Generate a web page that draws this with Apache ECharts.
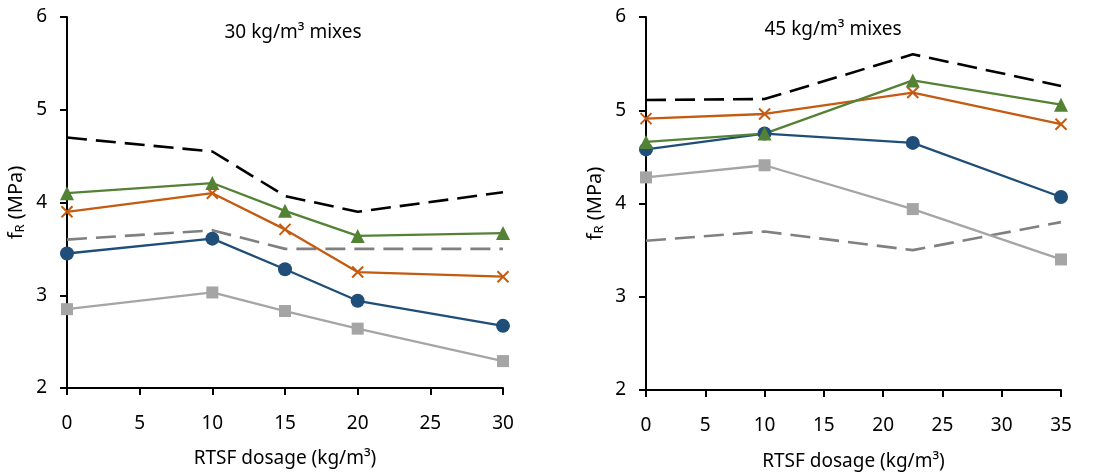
<!DOCTYPE html>
<html><head><meta charset="utf-8">
<script src="https://cdn.jsdelivr.net/npm/echarts@6/dist/echarts.min.js"></script>
<style>html,body{margin:0;padding:0;background:#fff}#c{width:1104px;height:476px}</style>
</head><body><div id="c"></div>
<script>
// ---- data ----
const xLeft = [0, 10, 15, 20, 30];
const xRight = [0, 10, 22.5, 35];
const leftBlackDash = [4.70, 4.55, 4.07, 3.90, 4.11];
const leftGreen     = [4.10, 4.21, 3.91, 3.64, 3.67];
const leftOrange    = [3.90, 4.10, 3.71, 3.25, 3.20];
const leftGrayDash  = [3.60, 3.70, 3.50, 3.50, 3.50];
const leftBlue      = [3.45, 3.61, 3.28, 2.94, 2.67];
const leftLightGray = [2.85, 3.03, 2.83, 2.64, 2.29];
const rightBlackDash = [5.11, 5.12, 5.60, 5.26];
const rightGreen     = [4.66, 4.75, 5.32, 5.06];
const rightOrange    = [4.91, 4.96, 5.19, 4.85];
const rightBlue      = [4.58, 4.75, 4.65, 4.07];
const rightLightGray = [4.28, 4.41, 3.94, 3.40];
const rightGrayDash  = [3.60, 3.70, 3.50, 3.80];
const titles = ['30 kg/m³ mixes', '45 kg/m³ mixes'];
const xName = 'RTSF dosage (kg/m³)';

const FONT = 'Noto Sans';
const C = {black:'#000000', green:'#548235', orange:'#C55A11', blue:'#1F4E79', lgray:'#A5A5A5', dgray:'#808080'};
const xSym = 'path://M0,0L10,10M10,0L0,10';

function pairs(xs, ys){ return xs.map((x,i)=>[x, ys[i]]); }

function mk(idx, xs, ys, color, symbol, size, dashed){
  const s = {
    type:'line', xAxisIndex:idx, yAxisIndex:idx, data:pairs(xs, ys),
    symbol: symbol || 'none', symbolSize:size || 0, showSymbol: !!symbol,
    lineStyle:{color:color, width: dashed ? 2.6 : 2.3, type: dashed ? [20,9] : 'solid'},
    itemStyle:{color:color},
    animation:false, z: dashed ? 1 : 2
  };
  if (symbol === xSym) {
    s.itemStyle = {color:color, borderColor:color, borderWidth:2};
  }
  return s;
}

function xAxis(idx, max, gap){
  return {
    type:'value', gridIndex:idx, min:0, max:max, interval:5,
    name:xName, nameLocation:'middle', nameGap:gap,
    nameTextStyle:{fontFamily:FONT, fontSize:19, color:'#000'},
    axisLine:{show:true, onZero:false, lineStyle:{color:'#000', width:2}},
    axisTick:{show:true, length:7, lineStyle:{color:'#000', width:2}},
    axisLabel:{fontFamily:FONT, fontSize:19, color:'#000', margin:26},
    splitLine:{show:false}
  };
}
function yAxis(idx){
  return {
    type:'value', gridIndex:idx, min:2, max:6, interval:1,
    name:'{f|f}{s|R}{f| (MPa)}', nameLocation:'middle', nameGap:40, nameRotate:90,
    nameTextStyle:{rich:{
      f:{fontFamily:FONT, fontSize:20, color:'#000'},
      s:{fontFamily:FONT, fontSize:13, color:'#000', verticalAlign:'bottom', padding:[9,0,0,0]}
    }},
    axisLine:{show:true, lineStyle:{color:'#000', width:2}},
    axisTick:{show:true, length:7, lineStyle:{color:'#000', width:2}},
    axisLabel:{fontFamily:FONT, fontSize:19, color:'#000', margin:20},
    splitLine:{show:false}
  };
}

const chart = echarts.init(document.getElementById('c'), null, {renderer:'canvas'});
chart.setOption({
  backgroundColor:'#fff',
  animation:false,
  title:[
    {text:titles[0], left:288, top:18, textAlign:'center', textStyle:{fontFamily:FONT, fontSize:19, fontWeight:'normal', color:'#000'}},
    {text:titles[1], left:828, top:15, textAlign:'center', textStyle:{fontFamily:FONT, fontSize:19, fontWeight:'normal', color:'#000'}}
  ],
  grid:[
    {left:67, top:17, width:436, height:371, containLabel:false, outerBoundsMode:'none'},
    {left:646, top:17, width:415, height:373, containLabel:false, outerBoundsMode:'none'}
  ],
  xAxis:[xAxis(0,30,61), xAxis(1,35,62)],
  yAxis:[yAxis(0), yAxis(1)],
  series:[
    mk(0, xLeft, leftBlackDash, C.black, null, 0, true),
    mk(0, xLeft, leftGrayDash, C.dgray, null, 0, true),
    mk(0, xLeft, leftLightGray, C.lgray, 'rect', 12),
    mk(0, xLeft, leftBlue, C.blue, 'circle', 14),
    mk(0, xLeft, leftOrange, C.orange, xSym, 11),
    mk(0, xLeft, leftGreen, C.green, 'triangle', 14),
    mk(1, xRight, rightBlackDash, C.black, null, 0, true),
    mk(1, xRight, rightGrayDash, C.dgray, null, 0, true),
    mk(1, xRight, rightLightGray, C.lgray, 'rect', 12),
    mk(1, xRight, rightBlue, C.blue, 'circle', 14),
    mk(1, xRight, rightOrange, C.orange, xSym, 11),
    mk(1, xRight, rightGreen, C.green, 'triangle', 14)
  ]
});
</script></body></html>
